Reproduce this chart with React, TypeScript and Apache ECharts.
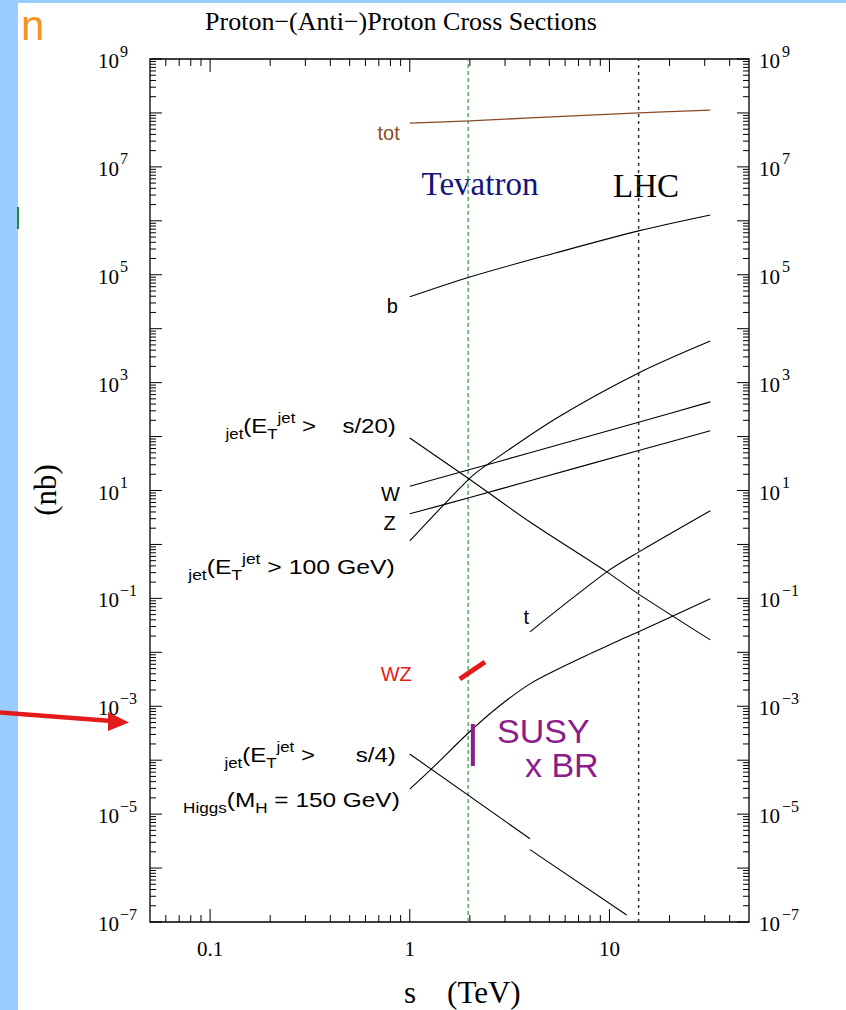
import React, { useEffect, useRef } from "react";
import * as echarts from "echarts";

const SERIF = '"Liberation Serif", "Times New Roman", serif';
const SANS = '"Liberation Sans", Arial, sans-serif';

// ---- axis ranges (sqrt(s) in TeV, sigma in nb) ----
const X_MIN = 0.05;
const X_MAX = 50;
const Y_MIN = 1e-7;
const Y_MAX = 1e9;

// ---- tick values and labels ----
const xMajorTicks = [0.1, 1, 10];
const xTickLabels = ["0.1", "1", "10"];
const xMinorTicks = [0.06, 0.07, 0.08, 0.09, 0.2, 0.3, 0.4, 0.5, 0.6, 0.7, 0.8, 0.9, 2, 3, 4, 5, 6, 7, 8, 9, 20, 30, 40];
const yDecades = [-7, -6, -5, -4, -3, -2, -1, 0, 1, 2, 3, 4, 5, 6, 7, 8, 9];
const yLabelExps = [9, 7, 5, 3, 1, -1, -3, -5, -7];
const yMinorMult = [2, 3, 4, 5, 6, 7, 8, 9];

// ---- curves ----
const totS = [1, 2, 4, 14, 32];
const totV = [6.5e7, 7.1e7, 8.1e7, 1.0e8, 1.13e8];

const bS = [1, 2, 5.3, 14, 32];
const bV = [3.9e4, 9.1e4, 2.5e5, 6.5e5, 1.28e6];

const jetAS = [1, 2, 4, 9.7, 14, 32]; // E_T > sqrt(s)/20
const jetAV = [94, 16, 2.6, 0.31, 0.12, 0.017];

const wS = [1, 2, 4, 14, 32];
const wV = [12, 24.5, 50, 184, 440];

const zS = [1, 2, 4, 14, 32];
const zV = [3.7, 7.4, 15.2, 55, 128];

const jetBS = [1, 2, 2.5, 5.45, 14, 32]; // E_T > 100 GeV
const jetBV = [1.16, 17, 32, 221, 1510, 5900];

const tS = [4, 9.7, 14, 32];
const tV = [0.024, 0.31, 0.72, 4.2];

const higgsS = [1, 1.3, 2, 2.8, 4, 5.6, 8.2, 11.3, 14, 32];
const higgsV = [2.9e-5, 7.2e-5, 3.4e-4, 1.0e-3, 2.6e-3, 5.0e-3, 9.8e-3, 0.017, 0.024, 0.098];

const jetC1S = [1, 4]; // E_T > sqrt(s)/4, p-pbar
const jetC1V = [1.3e-4, 3.5e-6];
const jetC2S = [4, 12.2]; // E_T > sqrt(s)/4, p-p
const jetC2V = [2.2e-6, 1.35e-7];

const wzS = [1.78, 2.38];
const wzV = [3.2e-3, 6.6e-3];

const susyS = [2.07, 2.07];
const susyV = [7.8e-5, 4.7e-4];

const tevatronS = 1.96;
const lhcS = 14;

const BROWN = "#8a4b22";
const RED = "#e41b1b";
const PURPLE = "#8c1c8c";
const NAVY = "#16167a";
const GREEN = "#2f9a3a";

const zip = (s: number[], v: number[]) => s.map((x, i) => [x, v[i]]);

const richLabel = (color: string) => ({
  n: { fontFamily: SANS, fontSize: 20, lineHeight: 30, fill: color, color },
  sub: { fontFamily: SANS, fontSize: 14, lineHeight: 14, verticalAlign: "bottom", fill: color, color },
  sup: { fontFamily: SANS, fontSize: 14, lineHeight: 14, verticalAlign: "top", fill: color, color },
  gap: { fontFamily: SANS, fontSize: 20, lineHeight: 30, width: 22 },
  gap2: { fontFamily: SANS, fontSize: 20, lineHeight: 30, width: 34 },
});

// curve labels, anchored on the first point of their curve
const curveLabels = [
  { s: totS, v: totV, text: "{n|tot}", dx: -10, dy: 10, color: BROWN, sx: 1 },
  { s: bS, v: bV, text: "{n|b}", dx: -12, dy: 9, color: "#000", sx: 1 },
  { s: jetAS, v: jetAV, text: "{sub|jet}{n|(E}{sub|T}{sup|jet}{n| >}{gap| }{n|s/20)}", dx: -14, dy: -12, color: "#000", sx: 1.2 },
  { s: wS, v: wV, text: "{n|W}", dx: -10, dy: 8, color: "#000", sx: 1 },
  { s: zS, v: zV, text: "{n|Z}", dx: -14, dy: 9, color: "#000", sx: 1 },
  { s: jetBS, v: jetBV, text: "{sub|jet}{n|(E}{sub|T}{sup|jet}{n| > 100 GeV)}", dx: -15, dy: 26, color: "#000", sx: 1.24 },
  { s: tS, v: tV, text: "{n|t}", dx: -1, dy: -15, color: "#000", sx: 1 },
  { s: wzS, v: wzV, text: "{n|WZ}", dx: -48, dy: -5, color: RED, sx: 1 },
  { s: jetC1S, v: jetC1V, text: "{sub|jet}{n|(E}{sub|T}{sup|jet}{n| >}{gap2| }{n|s/4)}", dx: -14, dy: 1, color: "#000", sx: 1.2 },
  { s: higgsS, v: higgsV, text: "{sub|Higgs}{n|(M}{sub|H}{n| = 150 GeV)}", dx: -10, dy: 11, color: "#000", sx: 1.22 },
];

const fmtExp = (e: number) => (e < 0 ? "\u2212" + Math.abs(e) : String(e));

export default function App() {
  const ref = useRef<HTMLDivElement>(null);

  useEffect(() => {
    const chart = echarts.init(ref.current!, null, { renderer: "svg" });

    // tick data: [x, y, kind, labelIndex]; kind 0/1 = x major/minor, 2/3 = y major/minor
    const tickData: any[] = [];
    xMajorTicks.forEach((v, i) => tickData.push([v, Y_MIN, 0, i]));
    xMinorTicks.forEach((v) => tickData.push([v, Y_MIN, 1, -1]));
    yDecades.forEach((e) => {
      const li = yLabelExps.indexOf(e);
      tickData.push([X_MIN, Math.pow(10, e), 2, li]);
      if (e < 9) yMinorMult.forEach((m) => tickData.push([X_MIN, m * Math.pow(10, e), 3, -1]));
    });

    const txt = (text: string, x: number, y: number, font: string, align: string, fill = "#000") => ({
      type: "text",
      x,
      y,
      style: { text, font, fill, align, textAlign: align, verticalAlign: "middle", textVerticalAlign: "middle" },
    });

    const curve = (name: string, data: number[][], color = "#000", width = 1.1, smooth: any = 0.3) => ({
      type: "line",
      name,
      data,
      symbol: "none",
      showSymbol: false,
      smooth,
      silent: true,
      lineStyle: { color, width },
      z: 3,
    });

    const option: any = {
      animation: false,
      grid: {
        left: 150,
        top: 59,
        width: 599,
        height: 863,
        show: true,
        borderColor: "#000",
        borderWidth: 1.3,
        backgroundColor: "transparent",
      },
      xAxis: {
        type: "log",
        logBase: 10,
        min: X_MIN,
        max: X_MAX,
        axisLine: { show: false },
        axisTick: { show: false },
        axisLabel: { show: false },
        splitLine: { show: false },
      },
      yAxis: {
        type: "log",
        logBase: 10,
        min: Y_MIN,
        max: Y_MAX,
        axisLine: { show: false },
        axisTick: { show: false },
        axisLabel: { show: false },
        splitLine: { show: false },
      },
      series: [
        {
          type: "line",
          name: "Tevatron",
          data: [[tevatronS, Y_MIN], [tevatronS, Y_MAX]],
          symbol: "none",
          silent: true,
          lineStyle: { color: GREEN, width: 1.2, type: [4, 3] },
          z: 2,
        },
        {
          type: "line",
          name: "LHC",
          data: [[lhcS, Y_MIN], [lhcS, Y_MAX]],
          symbol: "none",
          silent: true,
          lineStyle: { color: "#333", width: 1.5, type: [3, 4] },
          z: 2,
        },
        curve("tot", zip(totS, totV), BROWN, 1.3),
        curve("b", zip(bS, bV)),
        curve("jet sqrt(s)/20", zip(jetAS, jetAV)),
        curve("W", zip(wS, wV)),
        curve("Z", zip(zS, zV)),
        curve("jet 100 GeV", zip(jetBS, jetBV)),
        curve("t", zip(tS, tV)),
        curve("Higgs", zip(higgsS, higgsV)),
        curve("jet sqrt(s)/4 ppbar", zip(jetC1S, jetC1V), "#000", 1.1, false),
        curve("jet sqrt(s)/4 pp", zip(jetC2S, jetC2V), "#000", 1.1, false),
        curve("WZ", zip(wzS, wzV), RED, 5, false),
        curve("SUSY x BR", zip(susyS, susyV), PURPLE, 4, false),
        {
          type: "custom",
          name: "ticks",
          silent: true,
          data: tickData,
          z: 5,
          renderItem: (params: any, api: any) => {
            const kind = api.value(2);
            const li = api.value(3);
            const children: any[] = [];
            const ls = { stroke: "#000", lineWidth: 1 };
            if (kind <= 1) {
              const v = api.value(0);
              const b = api.coord([v, Y_MIN]);
              const t = api.coord([v, Y_MAX]);
              const L = kind === 0 ? 13 : 7;
              children.push({ type: "line", shape: { x1: b[0], y1: b[1], x2: b[0], y2: b[1] - L }, style: ls });
              children.push({ type: "line", shape: { x1: t[0], y1: t[1], x2: t[0], y2: t[1] + L }, style: ls });
              if (li >= 0) children.push(txt(xTickLabels[li], b[0], b[1] + 27, `21px ${SERIF}`, "center"));
            } else {
              const v = api.value(1);
              const l = api.coord([X_MIN, v]);
              const r = api.coord([X_MAX, v]);
              const L = kind === 2 ? 12 : 6;
              children.push({ type: "line", shape: { x1: l[0], y1: l[1], x2: l[0] + L, y2: l[1] }, style: ls });
              children.push({ type: "line", shape: { x1: r[0], y1: r[1], x2: r[0] - L, y2: r[1] }, style: ls });
              if (li >= 0) {
                const ex = fmtExp(yLabelExps[li]);
                children.push(txt("10", l[0] - 31, l[1] + 2, `21px ${SERIF}`, "right"));
                children.push(txt(ex, l[0] - 30, l[1] - 8, `16px ${SERIF}`, "left"));
                children.push(txt("10", r[0] + 10, r[1] + 2, `21px ${SERIF}`, "left"));
                children.push(txt(ex, r[0] + 33, r[1] - 8, `16px ${SERIF}`, "left"));
              }
            }
            return { type: "group", children };
          },
        },
        {
          type: "custom",
          name: "curve labels",
          silent: true,
          data: curveLabels.map((c, i) => [c.s[0], c.v[0], i]),
          z: 6,
          renderItem: (params: any, api: any) => {
            const spec = curveLabels[api.value(2)];
            const p = api.coord([api.value(0), api.value(1)]);
            return {
              type: "text",
              x: p[0] + spec.dx,
              y: p[1] + spec.dy,
              scaleX: spec.sx,
              style: {
                text: spec.text,
                rich: richLabel(spec.color),
                fill: spec.color,
                align: "right",
                textAlign: "right",
                verticalAlign: "middle",
                textVerticalAlign: "middle",
              },
            };
          },
        },
      ],
      graphic: [
        { type: "rect", shape: { x: 0, y: 0, width: 18, height: 1010 }, style: { fill: "#99ccff" }, z: -10 },
        { type: "rect", shape: { x: 0, y: 0, width: 846, height: 3 }, style: { fill: "#99ccff" }, z: -10 },
        { type: "rect", shape: { x: 17, y: 207, width: 2, height: 22 }, style: { fill: "#2a8a2a" } },
        txt("n", 21, 25, `42px ${SANS}`, "left", "#f39422"),
        txt("Proton\u2212(Anti\u2212)Proton Cross Sections", 401, 21, `26px ${SERIF}`, "center"),
        { ...txt("(nb)", 45, 490, `31px ${SERIF}`, "center"), rotation: Math.PI / 2 },
        txt("s    (TeV)", 404, 992, `31px ${SERIF}`, "left"),
        txt("Tevatron", 480, 184, `33px ${SERIF}`, "center", NAVY),
        txt("LHC", 646, 186, `33px ${SERIF}`, "center"),
        txt("SUSY", 497, 731, `34px ${SANS}`, "left", PURPLE),
        txt("x BR", 525, 765, `34px ${SANS}`, "left", PURPLE),
        {
          type: "polyline",
          shape: { points: [[0, 712.5], [112, 721]] },
          style: { stroke: RED, lineWidth: 4.5, fill: null },
        },
        {
          type: "polygon",
          shape: { points: [[108, 712], [129, 722.5], [108, 731]] },
          style: { fill: RED },
        },
      ],
    };

    chart.setOption(option);
    return () => chart.dispose();
  }, []);

  return (
    <div
      ref={ref}
      style={{ position: "fixed", left: 0, top: 0, width: 846, height: 1010, background: "#fff" }}
    />
  );
}
